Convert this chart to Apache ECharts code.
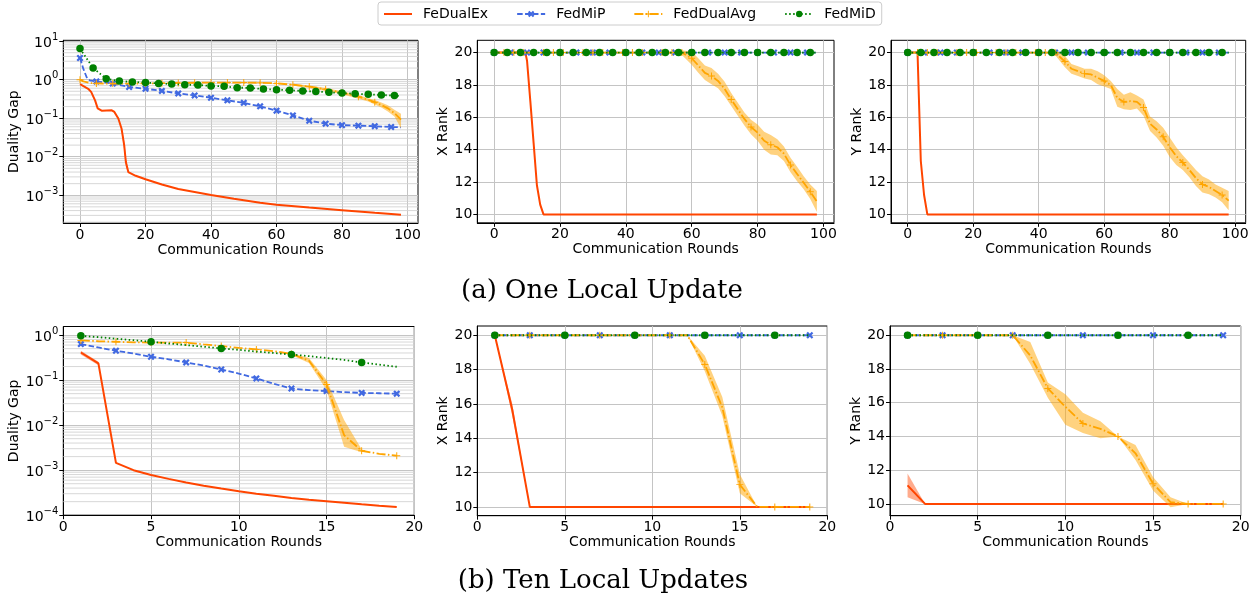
<!DOCTYPE html>
<html><head><meta charset="utf-8">
<script src="https://cdn.jsdelivr.net/npm/echarts@6/dist/echarts.min.js"></script>
<style>html,body{margin:0;padding:0;background:#fff}#c{width:1260px;height:598px}</style>
</head><body><div id="c"></div><script>
// ---------------- DATA ----------------
const SERIES_NAMES = ['FeDualEx', 'FedMiP', 'FedDualAvg', 'FedMiD'];
const CAPTION_A = '(a) One Local Update';
const CAPTION_B = '(b) Ten Local Updates';
const X_TICKS_A = [0, 20, 40, 60, 80, 100];
const X_TICKS_B = [0, 5, 10, 15, 20];
const GAP_TICKS_A = [1e-3, 1e-2, 1e-1, 1, 10];
const GAP_TICKS_B = [1e-4, 1e-3, 1e-2, 1e-1, 1];
const RANK_TICKS = [10, 12, 14, 16, 18, 20];

// (a) One local update — duality gap
const a1_red_x = [0, 2.5, 3.4, 4.6, 5.4, 6.6, 9.7, 10.5, 11.7, 12.7, 13.5, 14, 14.75, 17, 20, 25, 30, 35, 40, 47, 55, 60, 70, 80, 90, 98];
const a1_red_y = [0.76, 0.58, 0.48, 0.29, 0.18, 0.157, 0.16, 0.145, 0.098, 0.053, 0.0198, 0.0073, 0.004, 0.0032, 0.0026, 0.0019, 0.00145, 0.00121, 0.00101, 0.00081, 0.00064, 0.00057, 0.00048, 0.00041, 0.00035, 0.00031];
const a1_red_band_x = [12.7, 13.5, 14, 14.75];
const a1_red_band_lo = [0.045, 0.015, 0.0055, 0.0037];
const a1_red_band_hi = [0.06, 0.026, 0.0095, 0.0043];
const a1_blue_x = [0, 1, 2, 3, 5, 10, 15, 20, 25, 30, 35, 40, 45, 50, 55, 60, 65, 70, 75, 80, 85, 90, 95, 98];
const a1_blue_y = [3.65, 1.93, 1.17, 0.96, 0.9, 0.79, 0.645, 0.58, 0.51, 0.44, 0.39, 0.34, 0.29, 0.25, 0.203, 0.157, 0.118, 0.086, 0.072, 0.066, 0.064, 0.062, 0.059, 0.058];
const a1_orange_x = [0, 1, 3, 5, 10, 15, 20, 25, 30, 35, 40, 45, 50, 55, 60, 65, 70, 75, 80, 85, 88, 90, 92, 94, 96, 98];
const a1_orange_y = [1.0, 0.9, 0.82, 0.8, 0.79, 0.79, 0.8, 0.81, 0.82, 0.83, 0.84, 0.84, 0.84, 0.83, 0.8, 0.74, 0.66, 0.56, 0.46, 0.36, 0.3, 0.26, 0.22, 0.18, 0.135, 0.092];
const a1_orange_band_x = [65, 70, 75, 80, 85, 88, 90, 92, 94, 96, 98];
const a1_orange_band_lo = [0.70, 0.61, 0.51, 0.42, 0.32, 0.27, 0.225, 0.19, 0.15, 0.11, 0.055];
const a1_orange_band_hi = [0.78, 0.71, 0.61, 0.50, 0.40, 0.33, 0.295, 0.255, 0.215, 0.165, 0.13];
const a1_green_x = [0, 4, 8, 12, 16, 20, 24, 28, 32, 36, 40, 44, 48, 52, 56, 60, 64, 68, 72, 76, 80, 84, 88, 92, 96, 98];
const a1_green_y = [6.4, 2.0, 1.06, 0.92, 0.87, 0.84, 0.80, 0.77, 0.74, 0.73, 0.685, 0.67, 0.62, 0.61, 0.57, 0.55, 0.53, 0.51, 0.49, 0.47, 0.45, 0.43, 0.415, 0.40, 0.385, 0.376];

// (a) One local update — X rank
const a_blue_rank_x = [0, 5, 10, 15, 20, 25, 30, 35, 40, 45, 50, 55, 60, 65, 70, 75, 80, 85, 90, 95, 98];
const a_blue_rank_y = [20, 20, 20, 20, 20, 20, 20, 20, 20, 20, 20, 20, 20, 20, 20, 20, 20, 20, 20, 20, 20];
const a_green_rank_x = [0, 4, 8, 12, 16, 20, 24, 28, 32, 36, 40, 44, 48, 52, 56, 60, 64, 68, 72, 76, 80, 84, 88, 92, 96, 98];
const a_green_rank_y = [20, 20, 20, 20, 20, 20, 20, 20, 20, 20, 20, 20, 20, 20, 20, 20, 20, 20, 20, 20, 20, 20, 20, 20, 20, 20];
const a2_red_x = [0, 9.5, 10, 11, 12, 13, 14, 15, 98];
const a2_red_y = [20, 20, 19.5, 17.0, 14.4, 11.8, 10.6, 10, 10];
const a2_orange_x = [0, 3, 6, 9, 12, 15, 18, 21, 24, 27, 30, 33, 36, 39, 42, 45, 48, 51, 54, 57, 60, 62, 64, 66, 68, 70, 72, 74, 76, 78, 80, 82, 84, 86, 88, 90, 92, 94, 96, 98];
const a2_orange_y = [20, 20, 20, 20, 20, 20, 20, 20, 20, 20, 20, 20, 20, 20, 20, 20, 20, 20, 20, 20, 19.65, 19.2, 18.75, 18.55, 18.25, 17.75, 17.1, 16.5, 15.9, 15.4, 15.05, 14.55, 14.3, 14.15, 13.75, 13.05, 12.5, 11.95, 11.4, 10.8];
const a2_band_x = [57, 60, 62, 64, 66, 68, 70, 72, 74, 76, 78, 80, 82, 84, 86, 88, 90, 92, 94, 96, 98];
const a2_band_lo = [19.85, 19.25, 18.75, 18.3, 18.05, 17.8, 17.3, 16.7, 16.1, 15.5, 14.95, 14.55, 14.0, 13.7, 13.65, 13.3, 12.6, 12.05, 11.55, 10.95, 10.15];
const a2_band_hi = [20.15, 20.05, 19.65, 19.2, 19.05, 18.7, 18.2, 17.5, 16.9, 16.3, 15.85, 15.55, 15.1, 14.9, 14.65, 14.2, 13.5, 12.95, 12.35, 11.85, 11.45];

// (a) One local update — Y rank
const a3_red_x = [0, 3, 4, 5, 6, 98];
const a3_red_y = [20, 20, 13.3, 11.2, 10, 10];
const a3_orange_x = [0, 3, 6, 9, 12, 15, 18, 21, 24, 27, 30, 33, 36, 39, 42, 45, 48, 50, 52, 54, 56, 58, 60, 62, 64, 66, 68, 70, 72, 74, 76, 78, 80, 82, 84, 86, 88, 90, 92, 94, 96, 98];
const a3_orange_y = [20, 20, 20, 20, 20, 20, 20, 20, 20, 20, 20, 20, 20, 20, 20, 20, 19.45, 19.0, 18.85, 18.7, 18.65, 18.45, 18.25, 18.0, 17.2, 16.95, 17.0, 16.95, 16.6, 15.6, 15.25, 14.8, 14.15, 13.6, 13.2, 12.75, 12.25, 11.85, 11.7, 11.45, 11.2, 10.85];
const a3_band_x = [45, 48, 50, 52, 54, 56, 58, 60, 62, 64, 66, 68, 70, 72, 74, 76, 78, 80, 82, 84, 86, 88, 90, 92, 94, 96, 98];
const a3_band_lo = [19.85, 19.1, 18.7, 18.55, 18.4, 18.3, 18.05, 17.9, 17.75, 16.65, 16.5, 16.45, 16.55, 16.1, 15.15, 14.75, 14.25, 13.55, 13.05, 12.75, 12.3, 11.75, 11.35, 11.25, 11.05, 10.75, 10.25];
const a3_band_hi = [20.15, 19.8, 19.3, 19.15, 19.0, 19.0, 18.85, 18.6, 18.25, 17.75, 17.4, 17.55, 17.35, 17.1, 16.05, 15.75, 15.35, 14.75, 14.15, 13.65, 13.2, 12.75, 12.35, 12.15, 11.85, 11.65, 11.45];

// (b) Ten local updates
const b_x = [1, 2, 3, 4, 5, 6, 7, 8, 9, 10, 11, 12, 13, 14, 15, 16, 17, 18, 19];
const b1_red_y = [0.41, 0.235, 0.00145, 0.00100, 0.00078, 0.00064, 0.00053, 0.00045, 0.00039, 0.00034, 0.00030, 0.00027, 0.00024, 0.00022, 0.000205, 0.00019, 0.000175, 0.000163, 0.000153];
const b1_red_band_x = [1, 2];
const b1_red_band_lo = [0.37, 0.215];
const b1_red_band_hi = [0.45, 0.255];
const b1_blue_y = [0.63, 0.53, 0.45, 0.39, 0.33, 0.29, 0.247, 0.21, 0.172, 0.14, 0.109, 0.083, 0.065, 0.06, 0.057, 0.054, 0.052, 0.051, 0.05];
const b1_orange_y = [0.76, 0.73, 0.71, 0.69, 0.68, 0.68, 0.68, 0.62, 0.57, 0.52, 0.48, 0.44, 0.38, 0.27, 0.08, 0.006, 0.0027, 0.0023, 0.0021];
const b1_orange_band_x = [13, 14, 15, 16, 17];
const b1_orange_band_lo = [0.36, 0.24, 0.06, 0.0033, 0.0025];
const b1_orange_band_hi = [0.40, 0.31, 0.10, 0.013, 0.0029];
const b1_green_y = [0.96, 0.9, 0.83, 0.77, 0.71, 0.65, 0.6, 0.55, 0.505, 0.47, 0.43, 0.4, 0.37, 0.34, 0.31, 0.28, 0.247, 0.22, 0.198];

const b_rank20_y = [20, 20, 20, 20, 20, 20, 20, 20, 20, 20, 20, 20, 20, 20, 20, 20, 20, 20, 20];
const b2_red_x = [1, 2, 3, 19];
const b2_red_y = [20, 15.65, 10, 10];
const b2_red_band_x = [1, 2, 3];
const b2_red_band_lo = [20, 15.3, 10];
const b2_red_band_hi = [20, 16.0, 10];
const b2_orange_y = [20, 20, 20, 20, 20, 20, 20, 20, 20, 20, 20, 20, 18.3, 15.8, 11.3, 10, 10, 10, 10];
const b2_band_x = [12, 13, 14, 15, 16];
const b2_band_lo = [20, 17.9, 15.3, 10.8, 10];
const b2_band_hi = [20, 18.8, 16.4, 11.9, 10];

const b3_red_x = [1, 2, 19];
const b3_red_y = [11.1, 10, 10];
const b3_red_band_x = [1, 2];
const b3_red_band_lo = [10.4, 10];
const b3_red_band_hi = [11.8, 10];
const b3_orange_y = [20, 20, 20, 20, 20, 20, 20, 18.8, 16.85, 15.76, 14.77, 14.45, 14.0, 13.0, 11.2, 10.1, 10, 10, 10];
const b3_band_x = [7, 8, 9, 10, 11, 12, 13, 14, 15, 16, 17];
const b3_band_lo = [20, 18.3, 16.3, 14.7, 14.2, 13.9, 14.0, 12.6, 10.8, 9.8, 10];
const b3_band_hi = [20, 19.6, 17.2, 16.5, 15.4, 14.9, 14.0, 13.5, 11.6, 10.4, 10];

// ---------------- STYLE / BUILD ----------------
const FONT = 'DejaVu Sans';
const X_PATH = 'path://M-1,-0.55 L-0.55,-1 L0,-0.45 L0.55,-1 L1,-0.55 L0.45,0 L1,0.55 L0.55,1 L0,0.45 L-0.55,1 L-1,0.55 L-0.45,0 Z';
const PLUS_PATH = 'path://M-0.14,-1 L0.14,-1 L0.14,-0.14 L1,-0.14 L1,0.14 L0.14,0.14 L0.14,1 L-0.14,1 L-0.14,0.14 L-1,0.14 L-1,-0.14 L-0.14,-0.14 Z';
const STY = {
  FeDualEx:   {color: '#FF4500', width: 2,   type: 'solid', symbol: 'none', size: 0, z: 2},
  FedMiP:     {color: '#4169E1', width: 1.8, type: [5.5, 2.4], symbol: X_PATH, size: 7, z: 3},
  FedDualAvg: {color: '#FFA500', width: 1.8, type: [9, 2.4, 1.5, 2.4], symbol: PLUS_PATH, size: 7, z: 4},
  FedMiD:     {color: '#008000', width: 1.8, type: [1.5, 2.5], symbol: 'circle', size: 7.5, z: 5}
};

function lineSeries(gi, name, xs, ys, markFn) {
  const s = STY[name];
  return {
    type: 'line', name, xAxisIndex: gi, yAxisIndex: gi, z: s.z,
    symbol: s.symbol, symbolSize: s.size, symbolKeepAspect: true,
    showAllSymbol: true, animation: false, silent: true,
    itemStyle: {color: s.color, borderWidth: 0},
    lineStyle: {color: s.color, width: s.width, type: s.type},
    data: xs.map((x, i) => (markFn && markFn(x)) ? [x, ys[i]] : {value: [x, ys[i]], symbol: 'none'})
  };
}
function bandSeries(gi, xs, lo, hi, color) {
  const data = xs.map((x, i) => [x, lo[i], hi[i]]);
  return {
    type: 'custom', xAxisIndex: gi, yAxisIndex: gi, z: 3.5, silent: true, animation: false,
    data, encode: {x: 0, y: [1, 2]},
    renderItem(params, api) {
      if (params.dataIndex !== 0) return;
      const top = data.map(d => api.coord([d[0], d[2]]));
      const bot = data.map(d => api.coord([d[0], d[1]])).reverse();
      return {type: 'polygon', shape: {points: top.concat(bot)}, style: {fill: color}};
    }
  };
}
function minorGrid(gi, lo, hi) {
  const vals = [];
  for (let e = -5; e <= 1; e++) for (let m = 2; m <= 9; m++) {
    const v = m * Math.pow(10, e);
    if (v > lo && v < hi) vals.push([0, v]);
  }
  return {
    type: 'custom', xAxisIndex: gi, yAxisIndex: gi, z: 1, silent: true, animation: false,
    data: vals, encode: {x: 0, y: 1},
    renderItem(params, api) {
      const cs = params.coordSys;
      const y = api.coord([api.value(0), api.value(1)])[1];
      return {type: 'line', shape: {x1: cs.x, y1: y, x2: cs.x + cs.width, y2: y},
              style: {stroke: '#d2d2d2', lineWidth: 0.9}};
    }
  };
}

const ORANGE_BAND = 'rgba(255,165,0,0.5)';
const RED_BAND = 'rgba(255,69,0,0.45)';
const every = (k, off = 0) => x => Number.isInteger(x) && (x - off) % k === 0;

const gridDefs = [
  {left: 63.3, top: 40.3, width: 354.7, height: 182.7},
  {left: 477.3, top: 40.3, width: 356.7, height: 182.5},
  {left: 891, top: 40.3, width: 354.7, height: 182.5},
  {left: 63.3, top: 326.5, width: 351, height: 188.7},
  {left: 477.3, top: 326, width: 350, height: 189.7},
  {left: 890, top: 326, width: 350.7, height: 189.7}
];
const grid = gridDefs.map(g => Object.assign({show: true, borderColor: '#000', borderWidth: 1, containLabel: false}, g));

const tickLbl = {fontFamily: FONT, fontSize: 14, color: '#000'};
function xAxis(gi, min, max, ticks, nameGap) {
  return {
    type: 'value', gridIndex: gi, min, max,
    name: 'Communication Rounds', nameLocation: 'middle', nameGap,
    nameTextStyle: {fontFamily: FONT, fontSize: 14, color: '#000'},
    axisLine: {show: true, onZero: false, lineStyle: {color: '#000', width: 1}},
    axisTick: {show: true, length: 4, customValues: ticks, lineStyle: {color: '#000'}},
    axisLabel: Object.assign({margin: 5, customValues: ticks}, tickLbl),
    splitLine: {show: true, lineStyle: {color: '#c4c4c4', width: 1}}
  };
}
function yAxis(gi, type, min, max, ticks, name, nameGap) {
  const ax = {
    type, gridIndex: gi, min, max, name, nameLocation: 'middle', nameGap,
    nameTextStyle: {fontFamily: FONT, fontSize: 14, color: '#000'},
    axisLine: {show: true, onZero: false, lineStyle: {color: '#000', width: 1}},
    axisTick: {show: true, length: 4, customValues: ticks, lineStyle: {color: '#000'}},
    axisLabel: Object.assign({margin: 5, customValues: ticks}, tickLbl),
    splitLine: {show: true, lineStyle: {color: '#c4c4c4', width: 1}}
  };
  if (type === 'log') {
    ax.logBase = 10;
    ax.axisLabel.formatter = v => {
      const e = Math.round(Math.log10(v));
      return '{b|10}{e|' + (e < 0 ? '\u2212' : '') + Math.abs(e) + '}';
    };
    ax.axisLabel.rich = {
      b: {fontFamily: FONT, fontSize: 14, color: '#000', verticalAlign: 'bottom'},
      e: {fontFamily: FONT, fontSize: 10, color: '#000', verticalAlign: 'bottom', padding: [0, 0, 8, 0]}
    };
  }
  return ax;
}

const xAxes = [
  xAxis(0, -5.1, 103.2, X_TICKS_A, 19),
  xAxis(1, -5.1, 103.2, X_TICKS_A, 19),
  xAxis(2, -5.1, 103.2, X_TICKS_A, 19),
  xAxis(3, 0, 20, X_TICKS_B, 18),
  xAxis(4, 0, 20, X_TICKS_B, 18),
  xAxis(5, 0, 20, X_TICKS_B, 18)
];
const yAxes = [
  yAxis(0, 'log', 1.905e-4, 10.5, GAP_TICKS_A, 'Duality Gap', 38),
  yAxis(1, 'value', 9.48, 20.76, RANK_TICKS, 'X Rank', 22.6),
  yAxis(2, 'value', 9.48, 20.76, RANK_TICKS, 'Y Rank', 23.8),
  yAxis(3, 'log', 1e-4, 1.55, GAP_TICKS_B, 'Duality Gap', 38),
  yAxis(4, 'value', 9.49, 20.54, RANK_TICKS, 'X Rank', 22.6),
  yAxis(5, 'value', 9.3, 20.55, RANK_TICKS, 'Y Rank', 22.8)
];

const odd = x => x % 2 === 1;
const series = [
  minorGrid(0, 1.905e-4, 10.5),
  minorGrid(3, 1e-4, 1.55),
  // a1
  lineSeries(0, 'FeDualEx', a1_red_x, a1_red_y),
  bandSeries(0, a1_red_band_x, a1_red_band_lo, a1_red_band_hi, RED_BAND),
  lineSeries(0, 'FedMiP', a1_blue_x, a1_blue_y, every(5)),
  lineSeries(0, 'FedDualAvg', a1_orange_x, a1_orange_y, every(5)),
  bandSeries(0, a1_orange_band_x, a1_orange_band_lo, a1_orange_band_hi, ORANGE_BAND),
  lineSeries(0, 'FedMiD', a1_green_x, a1_green_y, every(4)),
  // a2
  lineSeries(1, 'FeDualEx', a2_red_x, a2_red_y),
  lineSeries(1, 'FedMiP', a_blue_rank_x, a_blue_rank_y, every(5)),
  lineSeries(1, 'FedDualAvg', a2_orange_x, a2_orange_y, every(3)),
  bandSeries(1, a2_band_x, a2_band_lo, a2_band_hi, ORANGE_BAND),
  lineSeries(1, 'FedMiD', a_green_rank_x, a_green_rank_y, every(4)),
  // a3
  lineSeries(2, 'FeDualEx', a3_red_x, a3_red_y),
  lineSeries(2, 'FedMiP', a_blue_rank_x, a_blue_rank_y, every(5)),
  lineSeries(2, 'FedDualAvg', a3_orange_x, a3_orange_y, every(3)),
  bandSeries(2, a3_band_x, a3_band_lo, a3_band_hi, ORANGE_BAND),
  lineSeries(2, 'FedMiD', a_green_rank_x, a_green_rank_y, every(4)),
  // b1
  lineSeries(3, 'FeDualEx', b_x, b1_red_y),
  bandSeries(3, b1_red_band_x, b1_red_band_lo, b1_red_band_hi, RED_BAND),
  lineSeries(3, 'FedMiP', b_x, b1_blue_y, odd),
  lineSeries(3, 'FedDualAvg', b_x, b1_orange_y, odd),
  bandSeries(3, b1_orange_band_x, b1_orange_band_lo, b1_orange_band_hi, ORANGE_BAND),
  lineSeries(3, 'FedMiD', b_x, b1_green_y, every(4, 1)),
  // b2
  lineSeries(4, 'FeDualEx', b2_red_x, b2_red_y),
  bandSeries(4, b2_red_band_x, b2_red_band_lo, b2_red_band_hi, RED_BAND),
  lineSeries(4, 'FedMiP', b_x, b_rank20_y, odd),
  lineSeries(4, 'FedDualAvg', b_x, b2_orange_y, odd),
  bandSeries(4, b2_band_x, b2_band_lo, b2_band_hi, ORANGE_BAND),
  lineSeries(4, 'FedMiD', b_x, b_rank20_y, every(4, 1)),
  // b3
  lineSeries(5, 'FeDualEx', b3_red_x, b3_red_y),
  bandSeries(5, b3_red_band_x, b3_red_band_lo, b3_red_band_hi, RED_BAND),
  lineSeries(5, 'FedMiP', b_x, b_rank20_y, odd),
  lineSeries(5, 'FedDualAvg', b_x, b3_orange_y, odd),
  bandSeries(5, b3_band_x, b3_band_lo, b3_band_hi, ORANGE_BAND),
  lineSeries(5, 'FedMiD', b_x, b_rank20_y, every(4, 1))
];

const chart = echarts.init(document.getElementById('c'), null, {renderer: 'canvas'});
chart.setOption({
  animation: false,
  backgroundColor: '#fff',
  legend: {
    data: [
      {name: 'FeDualEx', itemStyle: {opacity: 0}},
      {name: 'FedMiP'}, {name: 'FedDualAvg'}, {name: 'FedMiD'}
    ],
    left: 378, top: 2, orient: 'horizontal',
    itemWidth: 28, itemHeight: 8, itemGap: 28,
    padding: [5, 6, 4, 5], borderColor: '#cccccc', borderWidth: 1, borderRadius: 3,
    textStyle: {fontFamily: FONT, fontSize: 14, color: '#000', padding: [0, 0, 0, 6]},
    selectedMode: false
  },
  graphic: [
    {type: 'text', style: {text: CAPTION_A, x: 602, y: 291, textAlign: 'center', textVerticalAlign: 'middle', font: '26px "DejaVu Serif"', fill: '#000'}},
    {type: 'text', style: {text: CAPTION_B, x: 603, y: 581, textAlign: 'center', textVerticalAlign: 'middle', font: '26px "DejaVu Serif"', fill: '#000'}}
  ],
  grid, xAxis: xAxes, yAxis: yAxes, series
});
</script></body></html>
